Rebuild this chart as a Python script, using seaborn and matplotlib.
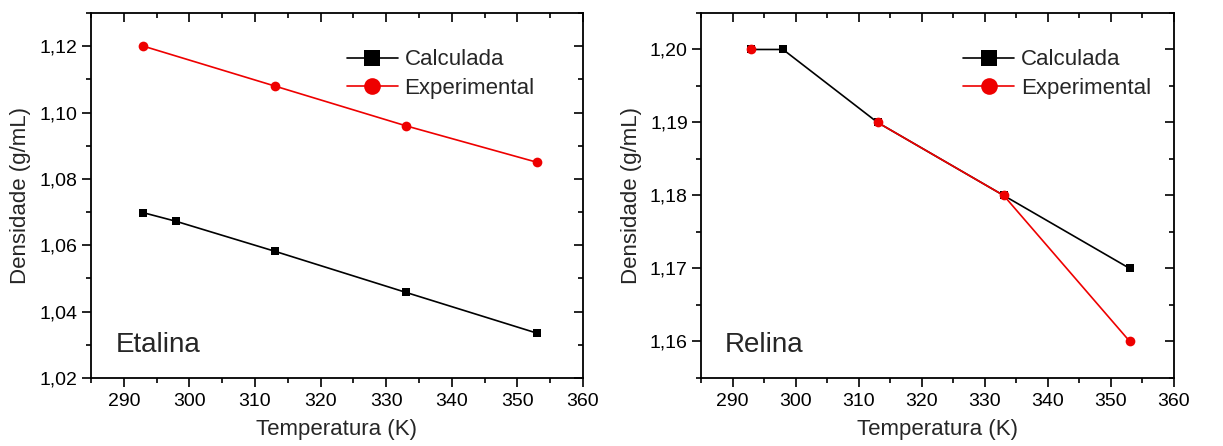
import matplotlib
matplotlib.use("Agg")
import matplotlib.pyplot as plt
from matplotlib.ticker import MultipleLocator, FuncFormatter
import seaborn as sns
import pandas as pd
import numpy as np

# Etalina
eta_calc_T = [293, 298, 313, 333, 353]
eta_calc_d = [1.0698, 1.0672, 1.0582, 1.0458, 1.0335]
eta_exp_T = [293, 313, 333, 353]
eta_exp_d = [1.120, 1.108, 1.096, 1.085]

# Relina (no experimental value at 298 K, so the curve is broken there)
rel_calc_T = [293, 298, 313, 333, 353]
rel_calc_d = [1.200, 1.200, 1.190, 1.180, 1.170]
rel_exp_T = [293, 298, 313, 333, 353]
rel_exp_d = [1.200, np.nan, 1.190, 1.180, 1.160]

series_names = ["Calculada", "Experimental"]
panel_names = ["Etalina", "Relina"]

sns.set_style("ticks")
plt.rcParams["font.family"] = ["Liberation Sans", "DejaVu Sans"]

fig = plt.figure(figsize=(12.23, 4.46), dpi=100)
ax1 = fig.add_axes([0.0744, 0.1525, 0.4023, 0.8184])
ax2 = fig.add_axes([0.5732, 0.1525, 0.3867, 0.8184])

comma = FuncFormatter(lambda v, p: f"{v:.2f}".replace(".", ","))


def segmented(T, d):
    """Frame with a segment id that restarts after every missing value."""
    df = pd.DataFrame({"T": T, "d": d})
    df["seg"] = df["d"].isna().cumsum()
    return df.dropna()


def draw(ax, calc_T, calc_d, exp_T, exp_d, name, ylim, ymaj, leg_anchor):
    df_c = segmented(calc_T, calc_d)
    df_e = segmented(exp_T, exp_d)
    sns.lineplot(data=df_c, x="T", y="d", units="seg", estimator=None, ax=ax,
                 color="black", marker="s", markersize=6.2, markeredgewidth=0,
                 linewidth=1.2)
    sns.lineplot(data=df_e, x="T", y="d", units="seg", estimator=None, ax=ax,
                 color="#ee0000", marker="o", markersize=7, markeredgewidth=0,
                 linewidth=1.2)
    ax.set_xlim(285, 360)
    ax.set_ylim(*ylim)
    ax.xaxis.set_major_locator(MultipleLocator(10))
    ax.xaxis.set_minor_locator(MultipleLocator(5))
    ax.yaxis.set_major_locator(MultipleLocator(ymaj))
    ax.yaxis.set_minor_locator(MultipleLocator(ymaj / 2))
    ax.yaxis.set_major_formatter(comma)
    for s in ax.spines.values():
        s.set_visible(True)
        s.set_linewidth(1.3)
        s.set_color("black")
    ax.tick_params(axis="both", which="both", top=True, right=True, color="black",
                   width=1.2, labelsize=14, labelcolor="black")
    ax.tick_params(which="major", length=6.5)
    ax.tick_params(which="minor", length=3.5)
    ax.tick_params(axis="x", which="both", direction="out", pad=4)
    ax.tick_params(axis="y", which="both", direction="out", pad=3)
    # top/right ticks point inward
    for t in ax.xaxis.get_major_ticks() + ax.xaxis.get_minor_ticks():
        t.tick2line.set_marker(matplotlib.lines.TICKDOWN)
    for t in ax.yaxis.get_major_ticks() + ax.yaxis.get_minor_ticks():
        t.tick2line.set_marker(matplotlib.lines.TICKLEFT)
    ax.set_xlabel("Temperatura (K)", fontsize=16, labelpad=7)
    ax.set_ylabel("Densidade (g/mL)", fontsize=16, labelpad=6)
    ax.text(0.05, 0.07, name, transform=ax.transAxes, fontsize=20,
            ha="left", va="baseline")

    handles = [
        plt.Line2D([], [], color="black", marker="s", markersize=11,
                   markeredgewidth=0, linewidth=1.2),
        plt.Line2D([], [], color="#ee0000", marker="o", markersize=12,
                   markeredgewidth=0, linewidth=1.2),
    ]
    ax.legend(handles, series_names, loc="upper left", bbox_to_anchor=leg_anchor,
              frameon=False, fontsize=16, handlelength=2.3, handletextpad=0.3,
              labelspacing=0.35, borderaxespad=0, borderpad=0)


draw(ax1, eta_calc_T, eta_calc_d, eta_exp_T, eta_exp_d, panel_names[0],
     (1.02, 1.13), 0.02, (0.52, 0.9))
draw(ax2, rel_calc_T, rel_calc_d, rel_exp_T, rel_exp_d, panel_names[1],
     (1.155, 1.205), 0.01, (0.554, 0.9))

fig.savefig("out.png", dpi=100)
